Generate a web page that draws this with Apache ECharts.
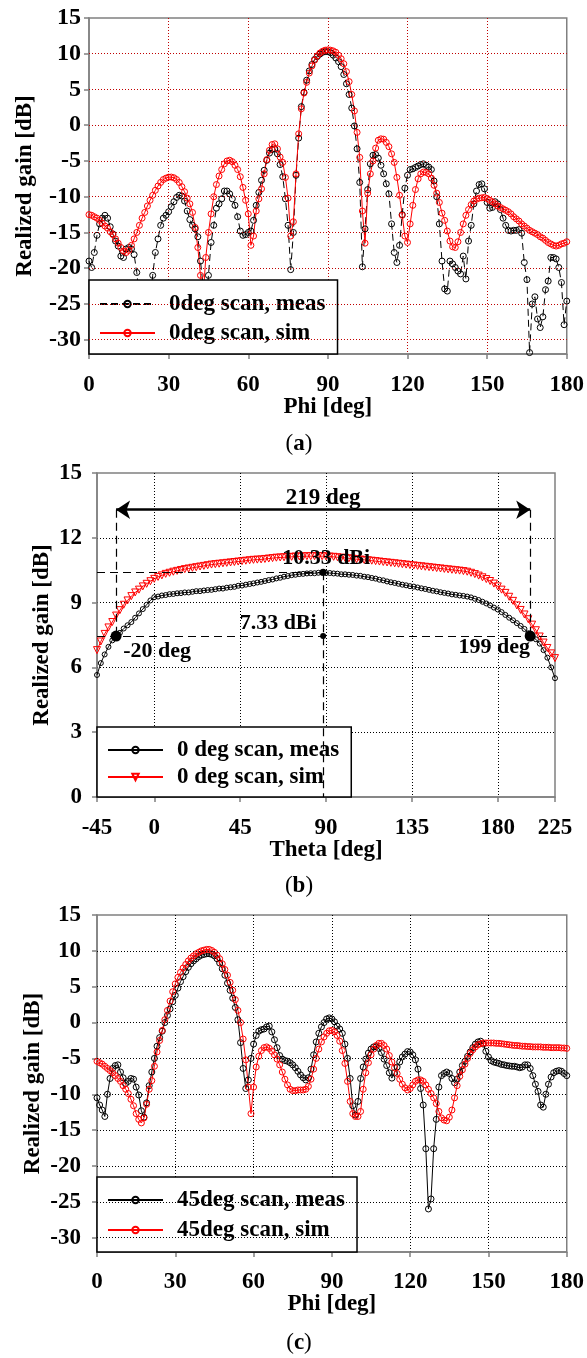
<!DOCTYPE html>
<html>
<head>
<meta charset="utf-8">
<script src="https://cdn.jsdelivr.net/npm/echarts@6.0.0/dist/echarts.min.js"></script>
<style>
html, body { margin: 0; padding: 0; background: #fff; }
#chart { width: 587px; height: 1358px; }
</style>
</head>
<body>
<div id="chart"></div>
<script>
// (a) 0deg scan, phi 0..180 step 1
var phiStart = 0, phiStep = 1;
var measA = [
  -19.0,-19.9,-17.8,-15.4,-13.8,-13.0,-12.6,-13.0,-14.2,-15.2,
  -16.2,-16.9,-18.3,-18.5,-17.3,-17.1,-17.3,-18.1,-20.6,-24.0,
  -28.0,-30.0,-28.0,-25.0,-21.0,-17.8,-15.9,-14.0,-13.0,-12.6,
  -12.1,-11.4,-10.7,-10.1,-9.8,-9.9,-10.6,-12.0,-13.2,-14.0,
  -14.5,-15.6,-19.0,-22.5,-26.0,-21.0,-16.4,-14.0,-11.6,-11.0,
  -10.3,-9.2,-9.2,-9.6,-10.3,-11.2,-12.8,-14.8,-15.4,-15.3,
  -15.0,-14.8,-13.3,-11.2,-9.4,-7.7,-6.3,-4.9,-3.9,-3.4,
  -3.3,-4.0,-5.5,-7.2,-10.3,-14.0,-20.2,-15.0,-7.0,-1.8,
  2.6,4.6,6.3,7.6,8.5,9.2,9.6,9.95,10.2,10.3,
  10.3,10.15,9.8,9.4,8.9,8.2,7.1,5.8,4.3,2.4,
  -0.1,-3.3,-8.0,-19.8,-14.5,-9.0,-5.4,-4.2,-4.1,-4.6,
  -5.6,-6.8,-8.2,-9.6,-13.8,-17.8,-19.2,-16.8,-12.5,-8.8,
  -7.0,-6.2,-6.1,-5.9,-5.7,-5.5,-5.4,-5.6,-5.85,-6.2,
  -7.8,-10.0,-13.8,-19.0,-22.9,-23.2,-19.0,-19.4,-19.9,-20.4,
  -20.8,-18.3,-21.5,-16.2,-14.0,-11.0,-9.2,-8.3,-8.2,-8.9,
  -10.8,-11.6,-11.5,-10.7,-11.0,-11.8,-13.0,-14.0,-14.7,-14.8,
  -14.7,-14.7,-14.6,-15.1,-19.2,-21.6,-31.8,-25.0,-24.0,-27.1,
  -28.3,-26.8,-23.0,-21.8,-18.5,-18.5,-18.7,-19.9,-22.0,-27.9,
  -24.6
];
var simA = [
  -12.5,-12.6,-12.8,-13.0,-13.3,-13.7,-14.1,-14.4,-14.9,-15.3,
  -15.9,-16.5,-17.1,-17.6,-17.8,-17.5,-16.8,-15.9,-15.0,-14.0,
  -13.0,-12.2,-11.3,-10.5,-9.8,-9.1,-8.5,-8.0,-7.6,-7.4,
  -7.26,-7.25,-7.35,-7.6,-8.0,-8.6,-9.3,-10.2,-11.0,-12.2,
  -14.3,-17.1,-21.0,-24.0,-18.5,-15.0,-12.4,-10.0,-8.3,-7.1,
  -6.2,-5.4,-5.0,-4.9,-5.1,-5.6,-6.2,-7.2,-8.7,-10.5,
  -12.4,-16.8,-15.5,-12.0,-10.3,-8.9,-6.8,-4.8,-3.5,-2.7,
  -2.6,-3.3,-4.45,-5.2,-7.3,-10.2,-15.5,-13.5,-6.8,-1.2,
  2.3,4.5,6.0,7.3,8.3,9.1,9.7,10.1,10.35,10.5,
  10.55,10.5,10.4,10.2,9.8,9.3,8.6,7.5,6.1,4.3,
  2.0,-1.0,-4.5,-12.0,-16.5,-9.5,-6.8,-5.0,-3.2,-2.1,
  -1.9,-1.95,-2.4,-3.0,-4.0,-5.2,-7.3,-9.8,-12.6,-15.5,
  -16.4,-13.8,-11.2,-9.0,-7.5,-6.8,-6.55,-6.6,-6.8,-7.4,
  -8.4,-9.5,-10.8,-12.3,-13.3,-14.8,-16.2,-17.0,-17.1,-16.3,
  -15.0,-13.8,-12.6,-11.8,-11.1,-10.6,-10.35,-10.2,-10.15,-10.1,
  -10.25,-10.5,-10.7,-11.0,-11.3,-11.5,-11.7,-11.9,-12.1,-12.4,
  -12.8,-13.1,-13.4,-13.8,-14.1,-14.4,-14.7,-14.9,-15.1,-15.3,
  -15.6,-15.8,-16.1,-16.4,-16.6,-16.8,-16.9,-16.8,-16.6,-16.5,
  -16.3
];
var gainTicksAC = [-30, -25, -20, -15, -10, -5, 0, 5, 10, 15];

// (b) 0 deg scan, theta -30..210 step 2
var thetaStart = -30, thetaStep = 2;
var measB = [
  5.65,6.2,6.6,6.95,7.25,7.45,7.6,7.8,7.95,8.1,
  8.3,8.5,8.7,8.9,9.1,9.25,9.28,9.33,9.35,9.39,
  9.4,9.43,9.44,9.47,9.47,9.5,9.53,9.53,9.56,9.58,
  9.59,9.62,9.65,9.65,9.69,9.71,9.73,9.78,9.79,9.83,
  9.86,9.89,9.93,9.96,10.0,10.04,10.07,10.12,10.15,10.2,
  10.23,10.27,10.29,10.32,10.33,10.35,10.36,10.36,10.38,10.38,
  10.37,10.37,10.35,10.34,10.31,10.31,10.29,10.28,10.25,10.24,
  10.2,10.18,10.14,10.11,10.06,10.03,9.98,9.94,9.91,9.87,
  9.83,9.8,9.76,9.74,9.7,9.66,9.63,9.59,9.55,9.52,
  9.48,9.45,9.42,9.38,9.36,9.33,9.31,9.28,9.24,9.18,
  9.12,9.04,8.96,8.87,8.77,8.68,8.56,8.43,8.3,8.18,
  8.05,7.92,7.78,7.58,7.42,7.3,7.1,6.8,6.45,6.0,
  5.5
];
var simB = [
  6.8,7.2,7.55,7.85,8.1,8.4,8.65,8.9,9.1,9.3,
  9.47,9.6,9.75,9.87,9.99,10.1,10.19,10.26,10.33,10.38,
  10.43,10.47,10.51,10.55,10.58,10.61,10.64,10.67,10.7,10.73,
  10.76,10.78,10.8,10.82,10.84,10.86,10.88,10.9,10.92,10.94,
  10.96,10.98,10.99,11.0,11.02,11.04,11.06,11.08,11.09,11.1,
  11.11,11.12,11.13,11.14,11.14,11.15,11.15,11.15,11.15,11.15,
  11.14,11.13,11.12,11.1,11.08,11.07,11.05,11.03,11.01,10.99,
  10.98,10.96,10.94,10.92,10.9,10.88,10.86,10.84,10.82,10.8,
  10.78,10.76,10.74,10.72,10.7,10.68,10.66,10.64,10.62,10.6,
  10.58,10.56,10.54,10.52,10.5,10.48,10.46,10.43,10.38,10.32,
  10.25,10.17,10.09,10.0,9.88,9.75,9.6,9.45,9.27,9.08,
  8.87,8.66,8.45,8.23,7.98,7.72,7.43,7.15,6.9,6.65,
  6.43
];
var thetaTickPos = [-30, 0, 45, 90, 135, 180, 210];
var thetaTickText = ['-45', '0', '45', '90', '135', '180', '225'];
var dotTheta = [-20, 197, 88.5, 88.5];
var dotGain = [7.45, 7.45, 7.45, 10.4];
var dotText = ['-20 deg', '199 deg', '7.33 dBi', '10.33 dBi'];
var arrowGain = 13.3;
var spanText = '219 deg';

// (c) 45deg scan, phi 0..180 step 1
var measC = [
  -10.5,-11.5,-12.2,-13.1,-10.0,-7.8,-6.4,-6.0,-5.9,-6.9,
  -7.7,-8.5,-8.2,-7.8,-7.9,-9.0,-10.1,-12.3,-13.2,-11.2,
  -8.8,-6.9,-5.0,-3.3,-2.1,-1.2,0.0,1.0,1.9,2.9,
  3.8,4.8,5.7,6.4,7.1,7.7,8.2,8.6,8.9,9.2,
  9.4,9.5,9.6,9.6,9.5,9.3,8.9,8.3,7.5,6.6,
  5.5,4.5,3.4,2.1,0.4,-2.8,-6.4,-9.2,-8.0,-5.0,
  -3.0,-1.8,-1.2,-1.0,-0.9,-0.6,-0.5,-1.3,-2.4,-3.5,
  -4.6,-5.1,-5.3,-5.4,-5.6,-5.9,-6.3,-6.8,-7.3,-7.7,
  -8.0,-7.7,-6.5,-4.5,-2.7,-1.5,-0.6,0.0,0.5,0.65,
  0.5,0.1,-0.5,-0.9,-1.5,-3.0,-5.0,-7.8,-11.6,-12.9,
  -11.0,-7.8,-6.2,-5.1,-4.25,-3.7,-3.4,-3.35,-3.6,-4.2,
  -5.1,-6.0,-7.0,-7.75,-7.0,-6.2,-5.5,-4.8,-4.4,-4.05,
  -4.1,-4.5,-5.2,-6.5,-9.2,-11.5,-17.6,-26.0,-24.6,-17.6,
  -13.5,-9.0,-7.4,-7.1,-6.9,-7.1,-7.8,-8.4,-7.9,-6.9,
  -6.0,-5.4,-4.7,-4.1,-3.5,-3.0,-2.7,-2.6,-3.0,-4.0,
  -4.8,-5.3,-5.5,-5.6,-5.7,-5.85,-5.9,-6.0,-6.05,-6.1,
  -6.1,-6.2,-6.3,-6.2,-5.9,-5.9,-6.4,-7.4,-8.6,-9.6,
  -11.5,-11.8,-10.0,-8.6,-7.6,-7.0,-6.8,-6.7,-6.8,-7.1,
  -7.4
];
var simC = [
  -5.4,-5.6,-5.8,-6.1,-6.4,-6.7,-7.0,-7.4,-7.8,-8.2,
  -8.8,-9.3,-9.9,-10.7,-11.6,-12.7,-13.5,-14.0,-13.3,-11.4,
  -9.3,-8.1,-6.1,-4.1,-2.5,-1.1,0.4,1.7,3.0,4.3,
  5.4,6.3,7.0,7.6,8.1,8.6,9.0,9.3,9.6,9.8,
  10.0,10.1,10.2,10.2,10.05,9.8,9.4,8.9,8.2,7.4,
  6.6,5.6,4.5,3.2,1.7,0.0,-2.3,-5.2,-9.0,-12.7,
  -9.0,-6.2,-4.7,-3.9,-3.5,-3.4,-3.6,-4.0,-4.5,-5.1,
  -5.9,-6.9,-7.9,-8.7,-9.3,-9.5,-9.5,-9.4,-9.4,-9.4,
  -9.3,-8.9,-7.9,-6.5,-5.0,-3.7,-2.7,-2.0,-1.5,-1.15,
  -1.1,-1.3,-1.8,-2.6,-3.9,-5.7,-8.2,-11.0,-12.7,-13.1,
  -13.1,-12.4,-9.3,-7.0,-5.6,-4.5,-3.7,-3.2,-2.9,-2.9,
  -3.2,-3.7,-4.6,-5.5,-6.3,-7.1,-7.9,-8.6,-9.1,-9.4,
  -9.2,-8.7,-8.2,-8.0,-8.0,-8.2,-8.7,-9.3,-9.9,-10.5,
  -11.3,-12.4,-13.3,-13.6,-13.7,-13.2,-12.2,-10.5,-8.8,-7.5,
  -6.6,-5.8,-5.0,-4.3,-3.8,-3.4,-3.1,-2.95,-2.85,-2.85,
  -2.85,-2.85,-2.85,-2.9,-2.9,-2.95,-3.0,-3.05,-3.1,-3.15,
  -3.2,-3.2,-3.25,-3.3,-3.3,-3.35,-3.35,-3.4,-3.4,-3.4,
  -3.4,-3.45,-3.45,-3.45,-3.5,-3.5,-3.5,-3.5,-3.55,-3.55,
  -3.6
];

var FONT = "'Liberation Serif', 'Times New Roman', serif";
function pairs(start, step, vals) {
  return vals.map(function (v, i) { return [start + i * step, v]; });
}
function txt(size) {
  return { fontFamily: FONT, fontWeight: 'bold', fontSize: size, color: '#000' };
}
var axisGray = { color: '#808080', width: 1.5 };
var DOT = [1, 2];

function xAx(gi, cfg) {
  var ax = {
    gridIndex: gi, type: 'value', min: cfg.min, max: cfg.max,
    axisLine: { show: true, onZero: false, lineStyle: axisGray },
    axisTick: { show: true, length: 5, lineStyle: axisGray },
    axisLabel: Object.assign(txt(23), { margin: cfg.margin, lineHeight: 24, showMinLabel: true, showMaxLabel: true }),
    splitLine: { show: true, showMinLine: false, showMaxLine: false,
      lineStyle: { color: cfg.gridColor, type: DOT, width: 1 } },
    name: cfg.name, nameLocation: 'middle', nameGap: cfg.nameGap, nameMoveOverlap: false,
    nameTextStyle: Object.assign(txt(23), { lineHeight: 26 })
  };
  if (cfg.interval) ax.interval = cfg.interval;
  return ax;
}
function yAx(gi, cfg) {
  var ax = {
    gridIndex: gi, type: 'value', min: cfg.min, max: cfg.max,
    axisLine: { show: true, onZero: false, lineStyle: axisGray },
    axisTick: { show: true, length: 5, lineStyle: axisGray },
    axisLabel: Object.assign(txt(cfg.fontSize), { margin: cfg.margin, showMinLabel: true, showMaxLabel: true }),
    splitLine: { show: !cfg.ticks, showMinLine: false, showMaxLine: false,
      lineStyle: { color: cfg.gridColor, type: DOT, width: 1 } },
    name: 'Realized gain [dB]', nameLocation: 'middle', nameGap: cfg.nameGap, nameMoveOverlap: false,
    nameTextStyle: Object.assign(txt(23), { lineHeight: 26 })
  };
  if (cfg.interval) ax.interval = cfg.interval;
  if (cfg.ticks) {
    ax.axisLabel.customValues = cfg.ticks;
    ax.axisTick.customValues = cfg.ticks;
  }
  return ax;
}

// horizontal grid lines for the -32..15 panels, drawn at the tick values
function hGrid(xi, color) {
  return {
    type: 'line', xAxisIndex: xi, yAxisIndex: xi, data: [], z: 1, silent: true,
    markLine: {
      silent: true, symbol: 'none', animation: false, label: { show: false },
      lineStyle: { color: color, type: DOT, width: 1 },
      emphasis: { disabled: true },
      data: gainTicksAC.slice(0, gainTicksAC.length - 1).map(function (v) { return { yAxis: v }; })
    }
  };
}

var xB = xAx(1, { min: -30, max: 210, margin: 19, gridColor: '#000', name: 'Theta [deg]', nameGap: 40 });
xB.axisLabel.customValues = thetaTickPos;
xB.axisTick.customValues = thetaTickPos;
xB.axisLabel.formatter = function (v) {
  var i = thetaTickPos.indexOf(v);
  return i >= 0 ? thetaTickText[i] : '';
};

function legendCfg(left, top, names, pad, gap) {
  return {
    orient: 'vertical', left: left, top: top, data: names,
    backgroundColor: '#fff', borderColor: '#000', borderWidth: 1.5,
    padding: pad, itemGap: gap, itemWidth: 55, itemHeight: 8,
    textStyle: Object.assign(txt(23), { lineHeight: 24, padding: [0, 0, 0, 9] })
  };
}

function curve(name, xi, data, color, opts) {
  return {
    name: name, type: 'line', xAxisIndex: xi, yAxisIndex: xi, data: data,
    symbol: opts.symbol || 'circle', symbolSize: opts.size, symbolRotate: opts.rotate || 0,
    showAllSymbol: true,
    itemStyle: { color: 'rgba(255,255,255,0)', borderColor: color, borderWidth: 1 },
    lineStyle: { color: color, width: 1, type: opts.dash || 'solid' },
    emphasis: { disabled: true }, z: opts.z || 2
  };
}

var dashed = { color: '#000', width: 1.2, type: [8, 5] };
var annoOffsets = [[41, 33], [-36, 29], [-45, 2], [3, 1]];
var annoSizes = [11, 11, 6, 7];
var annoData = dotTheta.map(function (t, i) {
  return {
    value: [t, dotGain[i]], symbolSize: annoSizes[i],
    label: Object.assign(txt(22), { show: true, position: 'top', distance: 0, lineHeight: 24,
      offset: annoOffsets[i], formatter: dotText[i] })
  };
});

var option = {
  animation: false,
  backgroundColor: '#fff',
  grid: [
    { left: 89, top: 18, width: 478, height: 336, show: true, borderColor: '#808080', borderWidth: 1.5 },
    { left: 97, top: 473, width: 458, height: 324, show: true, borderColor: '#808080', borderWidth: 1.5 },
    { left: 97, top: 915, width: 472, height: 337, show: true, borderColor: '#808080', borderWidth: 1.5 }
  ],
  xAxis: [
    xAx(0, { min: 0, max: 180, interval: 30, margin: 19, gridColor: '#c00000', name: 'Phi [deg]', nameGap: 40 }),
    xB,
    xAx(2, { min: 0, max: 180, interval: 30, margin: 18, gridColor: '#000', name: 'Phi [deg]', nameGap: 39 })
  ],
  yAxis: [
    yAx(0, { min: -32, max: 15, ticks: gainTicksAC, margin: 8, fontSize: 24, gridColor: '#c00000', nameGap: 51 }),
    yAx(1, { min: 0, max: 15, interval: 3, margin: 15, fontSize: 23, gridColor: '#000', nameGap: 42 }),
    yAx(2, { min: -32, max: 15, ticks: gainTicksAC, margin: 16, fontSize: 23, gridColor: '#000', nameGap: 51 })
  ],
  legend: [
    legendCfg(89, 280, ['0deg scan, meas', '0deg scan, sim'], [12, 12, 9, 10], 5),
    legendCfg(97, 727, ['0 deg scan, meas', '0 deg scan, sim'], [11, 12, 8, 10], 3),
    legendCfg(97, 1177, ['45deg scan, meas', '45deg scan, sim'], [11, 12, 10, 10], 6)
  ],
  graphic: [
    { type: 'text', x: 299, y: 444, style: { text: '({b|a})', rich: { b: { fontWeight: 'bold', fontSize: 23, fontFamily: FONT } }, fontSize: 23, fontFamily: FONT, fill: '#000', align: 'center', verticalAlign: 'middle' } },
    { type: 'text', x: 299, y: 886, style: { text: '({b|b})', rich: { b: { fontWeight: 'bold', fontSize: 23, fontFamily: FONT } }, fontSize: 23, fontFamily: FONT, fill: '#000', align: 'center', verticalAlign: 'middle' } },
    { type: 'text', x: 299, y: 1343, style: { text: '({b|c})', rich: { b: { fontWeight: 'bold', fontSize: 23, fontFamily: FONT } }, fontSize: 23, fontFamily: FONT, fill: '#000', align: 'center', verticalAlign: 'middle' } }
  ],
  series: [
    hGrid(0, '#c00000'),
    hGrid(2, '#000'),
    curve('0deg scan, meas', 0, pairs(phiStart, phiStep, measA), '#000', { size: 6, dash: [7, 4] }),
    curve('0deg scan, sim', 0, pairs(phiStart, phiStep, simA), '#ff0000', { size: 6 }),
    curve('0 deg scan, meas', 1, pairs(thetaStart, thetaStep, measB), '#000', { size: 5 }),
    curve('0 deg scan, sim', 1, pairs(thetaStart, thetaStep, simB), '#ff0000', { symbol: 'triangle', size: 7, rotate: 180 }),
    {
      name: 'markers', type: 'scatter', xAxisIndex: 1, yAxisIndex: 1, z: 5,
      data: annoData, symbol: 'circle', itemStyle: { color: '#000', opacity: 1 },
      emphasis: { disabled: true },
      markLine: {
        silent: true, symbol: 'none', animation: false,
        lineStyle: dashed, label: { show: false },
        data: [
          [{ coord: [thetaStart, dotGain[3]] }, { coord: [dotTheta[3], dotGain[3]] }],
          [{ coord: [thetaStart, dotGain[0]] }, { coord: [thetaStart + thetaStep * (simB.length - 1), dotGain[0]] }],
          [{ coord: [dotTheta[3], dotGain[3]] }, { coord: [dotTheta[3], 0] }],
          [{ coord: [dotTheta[0], arrowGain] }, { coord: [dotTheta[0], dotGain[0]] }],
          [{ coord: [dotTheta[1], arrowGain] }, { coord: [dotTheta[1], dotGain[1]] }],
          [
            { coord: [dotTheta[0], arrowGain], symbol: 'arrow', symbolSize: 14,
              lineStyle: { type: 'solid', width: 2.5, color: '#000' },
              label: Object.assign(txt(23), { show: true, position: 'middle', distance: 0, formatter: spanText }) },
            { coord: [dotTheta[1], arrowGain], symbol: 'arrow', symbolSize: 14 }
          ]
        ]
      }
    },
    curve('45deg scan, meas', 2, pairs(phiStart, phiStep, measC), '#000', { size: 6 }),
    curve('45deg scan, sim', 2, pairs(phiStart, phiStep, simC), '#ff0000', { size: 6 })
  ]
};

var myChart = echarts.init(document.getElementById('chart'));
myChart.setOption(option);
</script>
</body>
</html>
